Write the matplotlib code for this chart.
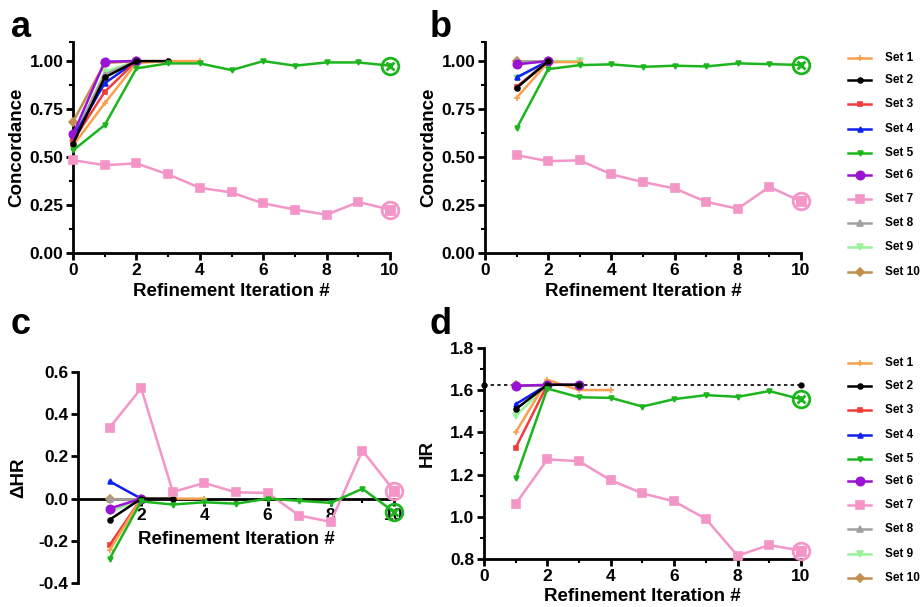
import matplotlib
matplotlib.use("Agg")
from matplotlib import pyplot as plt
from matplotlib.ticker import MultipleLocator, FixedLocator

plt.rcParams['font.family'] = ['Liberation Sans', 'DejaVu Sans']
plt.rcParams['font.weight'] = 'bold'
plt.rcParams['axes.labelweight'] = 'bold'

# Set names and styles
names = ["Set 1", "Set 2", "Set 3", "Set 4", "Set 5", "Set 6", "Set 7", "Set 8", "Set 9", "Set 10"]
colors = ["#F9A04E", "#000000", "#F23C3C", "#1020F0", "#1DB51D", "#9A12D4", "#F495C8", "#A0A0A0", "#9AF39A", "#C28F4E"]
markers = ["+", "o", "s", "^", "v", "o", "s", "^", "v", "D"]
msizes = [4, 3.5, 3.5, 3.5, 3.5, 6, 6, 4, 4, 4]

# Concordance, refinement iterations starting at 0
conc_a = [
    [0.56, 0.78, 0.99, 1.00, 1.00],
    [0.57, 0.915, 1.00, 1.00],
    [0.585, 0.84, 1.00],
    [0.60, 0.885, 1.00],
    [0.535, 0.667, 0.962, 0.988, 0.988, 0.953, 1.0, 0.976, 0.993, 0.993, 0.976],
    [0.618, 0.997, 1.00],
    [0.484, 0.458, 0.467, 0.41, 0.34, 0.316, 0.259, 0.227, 0.20, 0.266, 0.227],
    [0.60, 0.93, 1.00],
    [0.59, 0.944, 1.00],
    [0.684, 0.99, 1.00],
]

# Concordance, iterations starting at 1
conc_b = [
    [0.809, 0.995, 0.995],
    [0.86, 1.0],
    [0.866, 1.0],
    [0.915, 1.0],
    [0.649, 0.958, 0.979, 0.983, 0.97, 0.976, 0.972, 0.988, 0.984, 0.98],
    [0.983, 1.0],
    [0.51, 0.479, 0.483, 0.41, 0.37, 0.337, 0.267, 0.231, 0.345, 0.269],
    [1.0, 1.0],
    [0.91, 1.0, 1.0],
    [1.0, 1.0],
]

# delta HR, iterations starting at 1
dhr_c = [
    [-0.245, 0.0, 0.0, 0.0],
    [-0.10, 0.0, 0.0],
    [-0.22, 0.0],
    [0.082, 0.0],
    [-0.285, -0.013, -0.028, -0.017, -0.024, 0.0, -0.01, -0.02, 0.047, -0.063],
    [-0.047, 0.0],
    [0.337, 0.523, 0.032, 0.074, 0.03, 0.027, -0.08, -0.11, 0.228, 0.038],
    [0.0, 0.0],
    [-0.065, 0.0],
    [0.0, 0.0],
]

# HR, iterations starting at 1
hr_d = [
    [1.40, 1.648, 1.60, 1.60],
    [1.509, 1.625, 1.625],
    [1.327, 1.625],
    [1.533, 1.625],
    [1.182, 1.607, 1.566, 1.563, 1.522, 1.557, 1.576, 1.568, 1.595, 1.557],
    [1.62, 1.625, 1.625],
    [1.061, 1.272, 1.263, 1.173, 1.111, 1.073, 0.99, 0.816, 0.866, 0.84],
    [1.625, 1.625],
    [1.478, 1.625],
    [1.625, 1.625],
]
hr_ref = 1.625
hr_ref_x = [0, 10]

draw_order = [9, 8, 7, 3, 2, 0, 5, 1, 6, 4]


def draw_sets(ax, series, x0):
    for k, i in enumerate(draw_order):
        ys = series[i]
        xs = list(range(x0, x0 + len(ys)))
        ax.plot(xs, ys, color=colors[i], marker=markers[i], ms=msizes[i],
                mew=1.2, lw=1.8, zorder=3 + k, clip_on=False)
    # highlighted last iteration of sets 5 and 7
    for i, inner in [(4, "x"), (6, "s")]:
        ys = series[i]
        xl = x0 + len(ys) - 1
        ax.plot([xl], [ys[-1]], marker="o", ms=12, mfc="none", mec=colors[i],
                mew=2, zorder=20, clip_on=False)
        ax.plot([xl], [ys[-1]], marker=inner, ms=6, mfc="none", mec=colors[i],
                mew=2, zorder=20, clip_on=False)


def style_axes(ax):
    for s in ["top", "right"]:
        ax.spines[s].set_visible(False)
    for s in ["left", "bottom"]:
        ax.spines[s].set_linewidth(2)
    ax.tick_params(which="major", length=5, width=2, labelsize=12.5, pad=2)
    ax.tick_params(which="minor", length=3, width=1.5)
    for lab in ax.get_xticklabels() + ax.get_yticklabels():
        lab.set_fontweight("bold")


def add_legend(fig, x, ys):
    for i in range(10):
        fig.add_artist(plt.Line2D([x, x + 0.025], [ys[i], ys[i]], color=colors[i],
                                  marker=None, lw=1.8, transform=fig.transFigure))
        fig.add_artist(plt.Line2D([x + 0.0125], [ys[i]], color=colors[i], marker=markers[i],
                                  ms=msizes[i], mew=1.2, transform=fig.transFigure))
        fig.text(x + 0.040, ys[i], names[i], fontsize=8.5, fontweight="bold", va="center")


fig = plt.figure(figsize=(9.21, 6.07), dpi=100)

# panel a
ax_a = fig.add_axes([0.0793, 0.583, 0.3442, 0.348])
draw_sets(ax_a, conc_a, 0)
ax_a.set_xlim(0, 10)
ax_a.set_ylim(0, 1.1)
ax_a.xaxis.set_major_locator(MultipleLocator(2))
ax_a.xaxis.set_minor_locator(MultipleLocator(1))
ax_a.yaxis.set_major_locator(FixedLocator([0, 0.25, 0.5, 0.75, 1.0]))
ax_a.yaxis.set_minor_locator(FixedLocator([0.125, 0.375, 0.625, 0.875, 1.1]))
ax_a.set_yticklabels(["0.00", "0.25", "0.50", "0.75", "1.00"])
ax_a.set_xlabel("Refinement Iteration #", fontsize=13.5, labelpad=4)
ax_a.set_ylabel("Concordance", fontsize=13.5, labelpad=3)
style_axes(ax_a)

# panel b
ax_b = fig.add_axes([0.5266, 0.583, 0.3431, 0.348])
draw_sets(ax_b, conc_b, 1)
ax_b.set_xlim(0, 10)
ax_b.set_ylim(0, 1.1)
ax_b.xaxis.set_major_locator(MultipleLocator(2))
ax_b.xaxis.set_minor_locator(MultipleLocator(1))
ax_b.yaxis.set_major_locator(FixedLocator([0, 0.25, 0.5, 0.75, 1.0]))
ax_b.yaxis.set_minor_locator(FixedLocator([0.125, 0.375, 0.625, 0.875, 1.1]))
ax_b.set_yticklabels(["0.00", "0.25", "0.50", "0.75", "1.00"])
ax_b.set_xlabel("Refinement Iteration #", fontsize=13.5, labelpad=4)
ax_b.set_ylabel("Concordance", fontsize=13.5, labelpad=3)
style_axes(ax_b)

# panel c, x axis crossing at zero
ax_c = fig.add_axes([0.0847, 0.0395, 0.3431, 0.3475])
draw_sets(ax_c, dhr_c, 1)
ax_c.set_xlim(0, 10)
ax_c.set_ylim(-0.4, 0.6)
ax_c.spines["bottom"].set_position(("data", 0))
ax_c.xaxis.set_major_locator(FixedLocator([2, 4, 6, 8, 10]))
ax_c.xaxis.set_minor_locator(FixedLocator([1, 3, 5, 7, 9]))
ax_c.set_ylabel("\u0394HR", fontsize=13.5, labelpad=8)
style_axes(ax_c)
ax_c.set_yticks([-0.4, -0.2, 0.0, 0.2, 0.4, 0.6])
ax_c.set_yticklabels(["-0.4", "-0.2", "0.0", "0.2", "0.4", "0.6"], fontweight="bold")
ax_c.text(5, -0.195, "Refinement Iteration #", fontsize=13.5, fontweight="bold",
          ha="center", va="center", transform=ax_c.transData)

# panel d
ax_d = fig.add_axes([0.5255, 0.079, 0.3442, 0.348])
ax_d.plot(hr_ref_x, [hr_ref, hr_ref], color="black", ls=(0, (2, 2)), lw=1.2,
          marker="o", ms=3.5, zorder=2, clip_on=False)
draw_sets(ax_d, hr_d, 1)
ax_d.set_xlim(0, 10)
ax_d.set_ylim(0.8, 1.8)
ax_d.xaxis.set_major_locator(MultipleLocator(2))
ax_d.xaxis.set_minor_locator(MultipleLocator(1))
ax_d.yaxis.set_major_locator(MultipleLocator(0.2))
ax_d.yaxis.set_minor_locator(MultipleLocator(0.1))
ax_d.set_xlabel("Refinement Iteration #", fontsize=13.5, labelpad=3)
ax_d.set_ylabel("HR", fontsize=13.5, labelpad=10)
style_axes(ax_d)
ax_d.set_yticks([0.8, 1.0, 1.2, 1.4, 1.6, 1.8])
ax_d.set_yticklabels(["0.8", "1.0", "1.2", "1.4", "1.6", "1.8"], fontweight="bold")

# legends
add_legend(fig, 0.921, [1 - y / 607 for y in [58, 80, 104, 129, 153, 175, 199, 223, 247, 272]])
add_legend(fig, 0.921, [1 - y / 607 for y in [363, 386, 410, 435, 459, 481, 505, 529, 554, 578]])

# panel letters
for lx, ly, letter in [(0.012, 0.955, "a"), (0.466, 0.955, "b"), (0.012, 0.465, "c"), (0.466, 0.465, "d")]:
    fig.text(lx, ly, letter, fontsize=26, fontweight="bold", va="center")

fig.savefig("out.png", dpi=100)
